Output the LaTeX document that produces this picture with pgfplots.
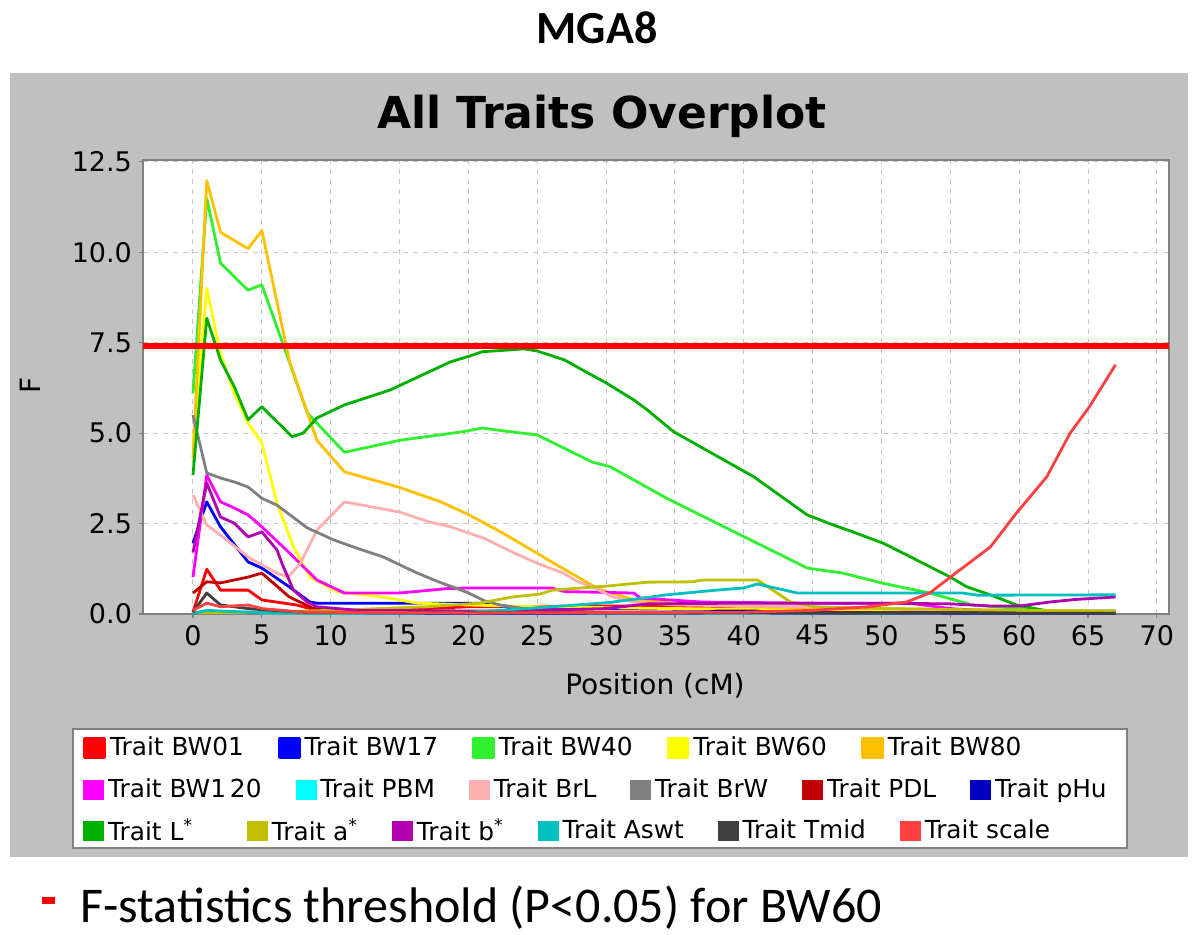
\documentclass[border=0pt]{standalone}
\usepackage{pgfplots}
\pgfplotsset{compat=1.18}
\usepackage{fontspec}
\setmainfont{DejaVu Sans}
\newfontfamily\calibri{Carlito}
\definecolor{panelgray}{HTML}{C0C0C0}
\definecolor{cBWa}{HTML}{FF0000}
\definecolor{cBWb}{HTML}{0000FF}
\definecolor{cBWc}{HTML}{30F030}
\definecolor{cBWd}{HTML}{FFFF00}
\definecolor{cBWe}{HTML}{FFC000}
\definecolor{cBWf}{HTML}{FF00FF}
\definecolor{cPBM}{HTML}{00FFFF}
\definecolor{cBrL}{HTML}{FFAFAF}
\definecolor{cBrW}{HTML}{808080}
\definecolor{cPDL}{HTML}{C00000}
\definecolor{cpHu}{HTML}{0000C0}
\definecolor{cL}{HTML}{00B000}
\definecolor{ca}{HTML}{C0C000}
\definecolor{cb}{HTML}{B000B0}
\definecolor{cAswt}{HTML}{00C0C0}
\definecolor{cTmid}{HTML}{404040}
\definecolor{cscale}{HTML}{FF4040}
\pgfplotsset{
  geom/.style={at={(71.5pt,160pt)}, anchor=south west, scale only axis,
    width=513pt, height=227pt, xmin=-3.63, xmax=70.88, ymin=0, ymax=12.55},
  rowlegend/.style={legend columns=-1,
    legend image code/.code={\fill[##1] (0pt,-4.75pt) rectangle (10pt,4.75pt);},
    legend style={anchor=west, draw=none, fill=none, inner sep=0pt,
      font=\fontsize{12.4}{14}\selectfont,
      /tikz/every even column/.append style={column sep=15pt}}},
  trait/.style={line width=1.4pt, line join=round, no markers}
}
\begin{document}
\begin{tikzpicture}
\useasboundingbox (0,0) rectangle (600pt,467pt);
\fill[white] (0,0) rectangle (600pt,467pt);
\fill[panelgray] (5pt,38.5pt) rectangle (594pt,430.5pt);
\node[font=\calibri\bfseries\fontsize{23}{26}\selectfont] at (298.5pt,453pt) {MGA8};
\node[font=\bfseries\fontsize{22}{24}\selectfont] at (301pt,409pt) {All Traits Overplot};
\filldraw[fill=white, draw=gray, line width=0.8pt] (36.5pt,43pt) rectangle (563.5pt,102.5pt);
\begin{axis}[geom,
  axis background/.style={fill=white},
  xtick={0,5,...,70}, ytick={0,2.5,...,12.5},
  grid=major, major grid style={draw=gray!45, dash pattern=on 2.5pt off 2.5pt, line width=0.5pt},
  axis line style={draw=gray, line width=0.6pt},
  tick align=outside, major tick length=2pt, tick style={gray, line width=0.6pt},
  tick pos=left,
  ticklabel style={font=\fontsize{13.5}{15}\selectfont},
  /pgf/number format/assume math mode=true,
  yticklabel style={/pgf/number format/.cd, fixed, fixed zerofill, precision=1},
  xlabel={Position (cM)}, ylabel={F},
  label style={font=\fontsize{14}{16}\selectfont},
  xlabel style={at={(axis description cs:0.499,-0.1586)}, anchor=center},
  ylabel style={at={(axis description cs:-0.110,0.504)}, anchor=center},
  rowlegend,
  legend style={at={(axis description cs:-0.0585,-0.2952)}},
]
% BW01
\addplot[trait, cBWa] coordinates {(0,0.05) (1,1.24) (2,0.66) (4,0.66) (5,0.39) (7.5,0.25) (9,0.1) (15,0.12) (20,0.2) (30,0.22) (45,0.2) (50,0.1) (67,0.05)};
\addlegendentry{Trait BW01}
% BW17
\addplot[trait, cBWb] coordinates {(0,1.96) (1,3.1) (2,2.41) (4,1.44) (5,1.27) (7,0.75) (8.5,0.33) (9,0.3) (21,0.3) (23,0.18) (30,0.15) (40,0.12) (50,0.1) (67,0.08)};
\addlegendentry{Trait BW17}
% BW40
\addplot[trait, cBWc] coordinates {(0,6.1) (1,11.5) (2,9.7) (4,8.95) (5,9.1) (6.5,7.5) (8.3,5.56) (11,4.47) (15,4.8) (19.6,5.04) (21,5.14) (23,5.04) (25,4.95) (26,4.76) (29,4.2) (30.3,4.07) (34.4,3.2) (40,2.14) (41.7,1.82) (44.6,1.27) (47.2,1.13) (50.1,0.85) (53.5,0.58) (56.6,0.25) (59.8,0.16) (63.2,0.06) (67,0.03)};
\addlegendentry{Trait BW40}
% BW60
\addplot[trait, cBWd] coordinates {(0,4.7) (1,9.0) (2,7.2) (3,6.1) (4,5.28) (5,4.73) (6.1,3.07) (7.3,1.85) (8.5,1.02) (10.5,0.61) (13.8,0.47) (16.3,0.3) (20,0.25) (25,0.2) (35,0.15) (50,0.1) (67,0.08)};
\addlegendentry{Trait BW60}
% BW80
\addplot[trait, cBWe] coordinates {(0,4.3) (1,11.98) (2,10.55) (4,10.1) (5,10.6) (7,7.0) (9,4.8) (11,3.93) (15,3.5) (18,3.1) (20,2.75) (22.3,2.28) (25,1.68) (26,1.45) (29.5,0.68) (32,0.4) (35,0.3) (40,0.2) (50,0.15) (60,0.1) (67,0.05)};
\addlegendentry{Trait BW80}
% BW120
\addplot[trait, cBWf] coordinates {(0,1.02) (1,3.84) (2,3.1) (3,2.93) (4,2.74) (5,2.41) (7,1.69) (9,0.94) (11,0.58) (15,0.58) (18.4,0.7) (20,0.72) (26,0.72) (27,0.62) (32,0.58) (32.5,0.44) (37,0.33) (45,0.3) (52,0.3) (55,0.15) (58,0.07) (67,0.05)};
% PBM
\addplot[trait, cPBM] coordinates {(0,0.02) (1,0.08) (5,0.03) (30,0.03) (67,0.02)};
% BrL
\addplot[trait, cBrL] coordinates {(0,3.29) (1,2.46) (2,2.18) (4.1,1.55) (6.1,1.13) (6.9,1.02) (7.8,1.4) (9,2.32) (11,3.1) (15,2.82) (17.2,2.54) (18.7,2.41) (20,2.24) (21.1,2.1) (23.2,1.71) (25,1.4) (26.9,1.13) (27.9,0.9) (29,0.75) (30.5,0.47) (32,0.33) (35,0.25) (45,0.2) (55,0.1) (67,0.05)};
% BrW
\addplot[trait, cBrW] coordinates {(0,5.5) (1,3.9) (2,3.76) (3,3.65) (4,3.51) (5,3.2) (6.1,3.01) (8.3,2.38) (10.2,2.05) (11.9,1.82) (13.8,1.58) (14.8,1.4) (16.3,1.13) (17.9,0.88) (19.9,0.6) (21.2,0.36) (22.3,0.25) (25,0.1) (30,0.05) (67,0.03)};
% PDL
\addplot[trait, cPDL] coordinates {(0,0.58) (1,0.89) (2,0.86) (4,1.02) (5,1.13) (7,0.47) (8.7,0.16) (10,0.08) (20,0.05) (67,0.03)};
% pHu
\addplot[trait, cpHu] coordinates {(0,0.02) (1,0.05) (20,0.02) (37,0.03) (38,0.08) (41,0.08) (42,0.03) (67,0.02)};
% L*
\addplot[trait, cL] coordinates {(0,3.84) (1,8.18) (2,7.02) (3,6.28) (4,5.37) (5,5.73) (7.2,4.9) (8,5.0) (9,5.42) (11,5.78) (14.3,6.19) (18.7,6.97) (20,7.12) (21,7.25) (23,7.3) (24,7.33) (25,7.27) (27,7.02) (28.5,6.7) (30,6.39) (32,5.92) (33,5.64) (34.9,5.04) (39.2,4.12) (40.7,3.8) (44.6,2.74) (46.5,2.46) (47.7,2.3) (50.1,1.96) (52.1,1.58) (55,1.02) (56.2,0.75) (57.9,0.53) (59.8,0.25) (61.7,0.11) (63.2,0.05) (67,0.03)};
% a*
\addplot[trait, ca] coordinates {(0,0.03) (5,0.05) (10,0.1) (17,0.2) (20.8,0.3) (23.2,0.47) (25.2,0.55) (26.1,0.66) (30.3,0.78) (33,0.88) (36.3,0.89) (37,0.94) (41,0.94) (42.1,0.66) (43.4,0.33) (45.3,0.19) (50,0.15) (60,0.1) (67,0.08)};
% b*
\addplot[trait, cb] coordinates {(0,1.7) (1,3.62) (2,2.68) (3,2.51) (4,2.13) (5,2.27) (6.1,1.77) (6.5,1.36) (7.3,0.66) (8.3,0.33) (9,0.2) (12,0.1) (22,0.08) (30,0.15) (33,0.28) (40,0.3) (50,0.3) (55,0.28) (58,0.22) (60,0.22) (62.2,0.33) (64,0.4) (67,0.47)};
% Aswt
\addplot[trait, cAswt] coordinates {(0,0.02) (1,0.1) (4,0.05) (10,0.02) (20,0.05) (22.3,0.1) (27.9,0.25) (30.3,0.32) (34.4,0.53) (38,0.66) (40,0.72) (41,0.83) (43.9,0.58) (55.9,0.58) (57,0.52) (67,0.53)};
% Tmid
\addplot[trait, cTmid] coordinates {(0,0.05) (1,0.58) (2,0.25) (4,0.15) (5,0.12) (8,0.05) (67,0.02)};
% scale
\addplot[trait, cscale] coordinates {(0,0.1) (1,0.3) (2,0.2) (4,0.25) (5,0.15) (8,0.05) (20,0.03) (40,0.05) (45,0.1) (49,0.2) (51.8,0.33) (53.5,0.58) (55,1.02) (57.9,1.85) (59.8,2.79) (62,3.79) (63.7,5.0) (65.1,5.73) (67,6.89)};
% threshold
\addplot[red, line width=2.8pt, no markers, forget plot] coordinates {(-3.63,7.41) (70.88,7.41)};
\end{axis}
\begin{axis}[geom, hide axis, rowlegend, legend style={at={(axis description cs:-0.0585,-0.3877)}}]
\addlegendimage{cBWf}\addlegendentry{Trait BW1\kern2pt20}
\addlegendimage{cPBM}\addlegendentry{Trait PBM}
\addlegendimage{cBrL}\addlegendentry{Trait BrL}
\addlegendimage{cBrW}\addlegendentry{Trait BrW}
\addlegendimage{cPDL}\addlegendentry{Trait PDL}
\addlegendimage{cpHu}\addlegendentry{Trait pHu}
\end{axis}
\begin{axis}[geom, hide axis, rowlegend, legend style={at={(axis description cs:-0.0585,-0.478)}}]
\addlegendimage{cL}\addlegendentry{Trait L\textsuperscript{*}\hspace*{10pt}}
\addlegendimage{ca}\addlegendentry{Trait a\textsuperscript{*}}
\addlegendimage{cb}\addlegendentry{Trait b\textsuperscript{*}}
\addlegendimage{cAswt}\addlegendentry{Trait Aswt}
\addlegendimage{cTmid}\addlegendentry{Trait Tmid}
\addlegendimage{cscale}\addlegendentry{Trait scale}
\end{axis}
\fill[red] (21pt,15pt) rectangle (27.5pt,18.5pt);
\node[anchor=base west, inner sep=0pt, font=\calibri\fontsize{25}{30}\selectfont] at (40pt,6pt) {F-statistics threshold (P<0.05) for BW60};
\end{tikzpicture}
\end{document}
